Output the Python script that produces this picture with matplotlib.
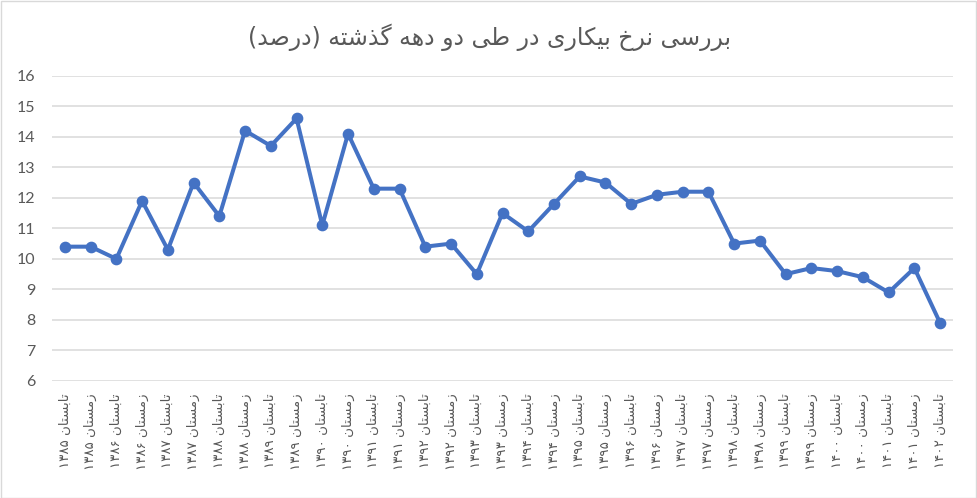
import matplotlib
matplotlib.use("Agg")
import matplotlib.pyplot as plt
from matplotlib.patches import Rectangle

# ---------------- data ----------------
title_text = "بررسی نرخ بیکاری در طی دو دهه گذشته (درصد)"
seasons = ["تابستان", "زمستان"]
years = list(range(1385, 1403))
values = [10.4, 10.4, 10.0, 11.9, 10.3, 12.5, 11.4, 14.2, 13.7, 14.6,
          11.1, 14.1, 12.3, 12.3, 10.4, 10.5, 9.5, 11.5, 10.9, 11.8,
          12.7, 12.5, 11.8, 12.1, 12.2, 12.2, 10.5, 10.6, 9.5, 9.7,
          9.6, 9.4, 8.9, 9.7, 7.9]
y_ticks = list(range(6, 17))

# ---------------- simple Persian shaping ----------------
FORMS = {
    'ا': ('\uFE8D', '\uFE8E'),
    'ب': ('\uFE8F', '\uFE90', '\uFE91', '\uFE92'),
    'ت': ('\uFE95', '\uFE96', '\uFE97', '\uFE98'),
    'خ': ('\uFEA5', '\uFEA6', '\uFEA7', '\uFEA8'),
    'د': ('\uFEA9', '\uFEAA'),
    'ذ': ('\uFEAB', '\uFEAC'),
    'ر': ('\uFEAD', '\uFEAE'),
    'ز': ('\uFEAF', '\uFEB0'),
    'س': ('\uFEB1', '\uFEB2', '\uFEB3', '\uFEB4'),
    'ش': ('\uFEB5', '\uFEB6', '\uFEB7', '\uFEB8'),
    'ص': ('\uFEB9', '\uFEBA', '\uFEBB', '\uFEBC'),
    'ط': ('\uFEC1', '\uFEC2', '\uFEC3', '\uFEC4'),
    'م': ('\uFEE1', '\uFEE2', '\uFEE3', '\uFEE4'),
    'ن': ('\uFEE5', '\uFEE6', '\uFEE7', '\uFEE8'),
    'ه': ('\uFEE9', '\uFEEA', '\uFEEB', '\uFEEC'),
    'و': ('\uFEED', '\uFEEE'),
    'ی': ('\uFBFC', '\uFBFD', '\uFBFE', '\uFBFF'),
    'ک': ('\uFB8E', '\uFB8F', '\uFB90', '\uFB91'),
    'گ': ('\uFB92', '\uFB93', '\uFB94', '\uFB95'),
}
DUAL = {c for c, f in FORMS.items() if len(f) == 4}
PDIG = "۰۱۲۳۴۵۶۷۸۹"


def to_fa_digits(n):
    return "".join(PDIG[int(d)] for d in str(n))


def shape(s):
    out = []
    for i, c in enumerate(s):
        if c not in FORMS:
            out.append(c)
            continue
        prev = s[i - 1] if i > 0 else None
        nxt = s[i + 1] if i + 1 < len(s) else None
        jp = prev in DUAL
        jn = (c in DUAL) and (nxt in FORMS)
        f = FORMS[c]
        if jp and jn:
            out.append(f[3])
        elif jp:
            out.append(f[1])
        elif jn:
            out.append(f[2])
        else:
            out.append(f[0])
    return "".join(out)


def visual(s):
    sh = shape(s)
    runs = []
    cur = ""
    cur_dig = None
    for c in sh:
        isd = c in PDIG or c.isdigit()
        if cur_dig is None or isd == cur_dig:
            cur += c
        else:
            runs.append((cur, cur_dig))
            cur = c
        cur_dig = isd
    if cur:
        runs.append((cur, cur_dig))
    res = []
    for text, isd in reversed(runs):
        if isd:
            res.append(text)
        else:
            t = text[::-1]
            t = t.translate(str.maketrans({'(': ')', ')': '('}))
            res.append(t)
    return "".join(res)


labels = []
for y in years:
    for s in seasons:
        labels.append(f"{s} {to_fa_digits(y)}")
labels = labels[:len(values)]
vis_labels = [visual(l) for l in labels]

# ---------------- plot ----------------
W, H = 977, 498
fig = plt.figure(figsize=(W / 100, H / 100), dpi=100)
fig.patch.set_facecolor("white")
ax = fig.add_axes([52 / W, 1 - 381 / H, (953 - 52) / W, (381 - 75.7) / H])

x = list(range(len(values)))
ax.plot(x, values, color="#4472C4", lw=2.9, marker="o", markersize=7.4,
        markeredgecolor="#4472C4", markerfacecolor="#4472C4", zorder=3,
        solid_joinstyle="round")

ax.set_xlim(-0.5, len(values) - 0.5)
ax.set_ylim(6, 16)
ax.set_yticks(y_ticks)
ax.set_yticklabels([str(t) for t in y_ticks], fontfamily=["Lato", "DejaVu Sans"],
                   fontsize=11.5, color="#595959")
ax.set_xticks(x)
ax.set_xticklabels(vis_labels, rotation=90, fontfamily=["DejaVu Sans"],
                   fontsize=9.6, color="#595959")
ax.tick_params(axis="y", length=0, pad=12)
ax.tick_params(axis="x", length=0, pad=9)
ax.grid(axis="y", color="#D9D9D9", lw=1.1)
ax.set_axisbelow(True)
for sp in ax.spines.values():
    sp.set_visible(False)

fig.text(490 / W, 1 - 37 / H, visual(title_text), ha="center", va="center",
         fontsize=17, color="#595959", fontfamily=["DejaVu Sans"])

fig.patches.append(Rectangle((0.5 / W, 0.5 / H), 1 - 1.5 / W, 1 - 1.5 / H,
                             transform=fig.transFigure, fill=False,
                             edgecolor="#D9D9D9", lw=1))

fig.savefig("out.png", dpi=100, facecolor="white")
